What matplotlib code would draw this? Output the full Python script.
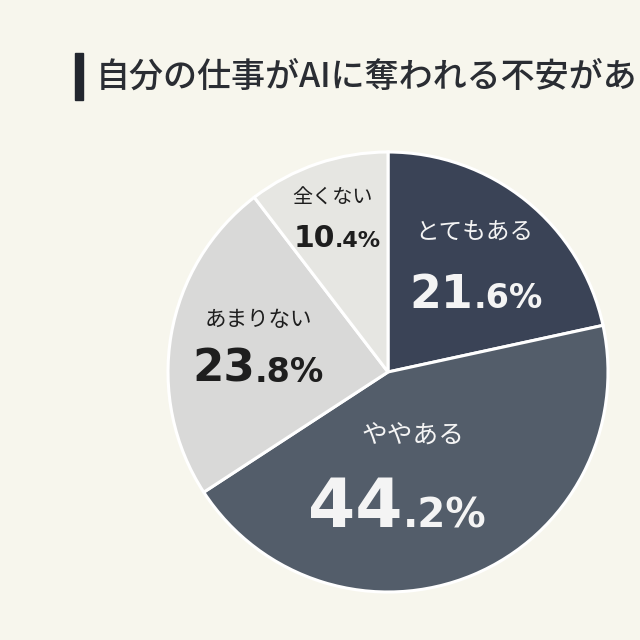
import matplotlib
matplotlib.use("Agg")
import matplotlib.pyplot as plt
from matplotlib.transforms import ScaledTranslation

plt.rcParams['font.family'] = ['Noto Sans CJK JP', 'DejaVu Sans']

# data
title = "自分の仕事がAIに奪われる不安がある"
labels = ["とてもある", "ややある", "あまりない", "全くない"]
values = [21.6, 44.2, 23.8, 10.4]
colors = ["#3a4356", "#535d6a", "#d9d9d8", "#e6e6e2"]
text_colors = ["#f4f4f4", "#f4f4f4", "#1e1e1e", "#1e1e1e"]

# label placement (pixels in the 640x640 picture) and sizes
label_pos = [(474, 232), (413, 437), (258, 320), (333, 198)]
num_pos = [(476, 308), (397, 527), (258, 382), (337, 247)]
label_size = [17, 18.5, 15.5, 14.5]
big_size = [33, 49, 32.5, 21.5]
small_size = [24, 29, 24, 16]

bg = "#f7f6ed"
cx, cy, r = 388, 372, 220

fig = plt.figure(figsize=(6.4, 6.4), dpi=100, facecolor=bg)
ax = fig.add_axes([(cx - r) / 640, (640 - cy - r) / 640, 2 * r / 640, 2 * r / 640])
ax.set_facecolor(bg)
ax.pie(values, colors=colors, startangle=90, counterclock=False, radius=1,
       wedgeprops=dict(edgecolor="white", linewidth=2.2))
ax.set_xlim(-1, 1)
ax.set_ylim(-1, 1)
ax.set_aspect("equal")
ax.axis("off")


def to_data(px, py):
    return (px - cx) / r, (cy - py) / r


renderer = fig.canvas.get_renderer()
for i, lab in enumerate(labels):
    x, y = to_data(*label_pos[i])
    ax.text(x, y, lab, ha="center", va="center", fontsize=label_size[i],
            color=text_colors[i], clip_on=False)

    whole = str(int(values[i]))
    frac = "." + f"{values[i]:.1f}".split(".")[1] + "%"
    x, y = to_data(*num_pos[i])
    t1 = ax.text(x, y, whole, ha="left", va="baseline", fontsize=big_size[i],
                 weight="bold", color=text_colors[i], family="DejaVu Sans")
    t2 = ax.text(x, y, frac, ha="left", va="baseline", fontsize=small_size[i],
                 weight="bold", color=text_colors[i], family="DejaVu Sans")
    w1 = t1.get_window_extent(renderer).width
    w2 = t2.get_window_extent(renderer).width
    total = w1 + w2
    t1.set_transform(ax.transData + ScaledTranslation(-total / 2 / 100, 0, fig.dpi_scale_trans))
    t2.set_transform(ax.transData + ScaledTranslation((w1 - total / 2) / 100, 0, fig.dpi_scale_trans))

# title with bar (the reference crops it at the right edge)
fig.patches.append(plt.Rectangle((75 / 640, 1 - 100 / 640), 8 / 640, 47 / 640,
                                 transform=fig.transFigure, color="#22262e"))
fig.text(96 / 640, 1 - 77 / 640, title, ha="left", va="center", fontsize=24.5,
         weight="medium", color="#2a2d33")

fig.savefig("out.png", dpi=100, facecolor=bg)
